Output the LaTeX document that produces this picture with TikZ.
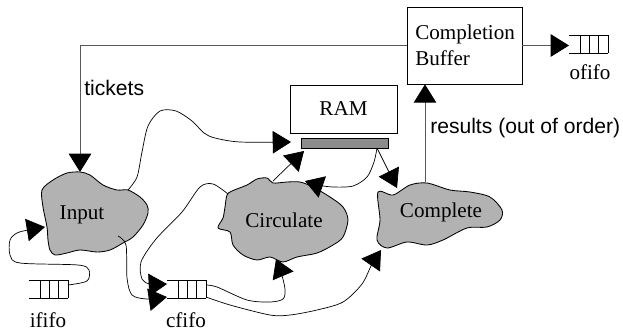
\documentclass[tikz,border=0pt]{standalone}
\usepackage{fontspec}
\setmainfont{Liberation Serif}
\setsansfont{Liberation Sans}
\usetikzlibrary{arrows.meta}

\tikzset{
  every node/.style={font=\fontsize{15}{18.5}\selectfont},
  blob/.style={fill=gray!60, draw=black, line width=0.6pt},
  box/.style={draw, line width=0.6pt},
  link/.style={line width=0.5pt, -{Triangle[length=13pt,width=16pt]}},
  feedback/.style={line width=0.7pt, draw=black!65, -{Triangle[length=13pt,width=16pt,color=black]}},
  tag/.style={font=\sffamily\fontsize{15}{18}\selectfont, inner sep=0pt, anchor=west},
}

\begin{document}
\begin{tikzpicture}[x=0.025cm,y=-0.025cm]
\useasboundingbox (0,0) rectangle (623,335);

% processes
\filldraw[blob] plot[smooth cycle] coordinates {(42,190) (53,180) (67,173) (80,172) (90,175) (103,185) (117,190) (128,190) (140,197) (147,205) (148,213) (143,225) (133,237) (123,243) (110,250) (97,252) (80,250) (67,253) (55,255) (50,250) (48,240) (47,227) (43,207)};
\node (input) at (82,215) {Input};

\filldraw[blob] plot[smooth cycle] coordinates {(227,195) (232,191) (247,185) (257,179) (267,178) (273,183) (287,182) (300,182) (313,187) (330,197) (343,207) (348,220) (343,237) (333,245) (317,253) (297,257) (283,262) (270,257) (257,260) (243,255) (233,245) (230,232) (218,228) (223,218) (225,207)};
\node (circulate) at (284,220) {Circulate};

\filldraw[blob] plot[smooth cycle] coordinates {(378,192) (393,195) (410,185) (427,183) (450,190) (470,192) (490,197) (502,210) (500,220) (487,227) (467,228) (443,240) (427,245) (407,242) (387,248) (377,240) (380,220)};
\node (complete) at (441,212) {Complete};

% boxes
\node[box, minimum height=54.7pt, text width=70pt, inner xsep=5.9pt, align=left] (buffer) at (464.5,45.5) {Completion\\Buffer};
\node[box, minimum width=76pt, minimum height=34.1pt] (ram) at (343.5,109) {RAM};
\node[box, fill=gray!90, minimum width=61.9pt, minimum height=7.1pt, inner sep=0pt] (bar) at (344.5,143) {};

% queues
\foreach \x/\y in {29/280, 167/280, 569/35}{
  \draw[line width=0.6pt] (\x,\y) -- ++(39,0) (\x,\y+18) -- ++(39,0);
  \foreach \d in {11,20,29,39}
    \draw[line width=0.6pt] (\x+\d,\y) -- ++(0,18);
}
\node (ififo) at (48,320) {ififo};
\node (cfifo) at (186,320) {cfifo};
\node (ofifo) at (590,72) {ofifo};

% ports
\coordinate (in-top) at (80,172);
\coordinate (in-ne) at (128,190);
\coordinate (in-se) at (118,236);
\coordinate (in-w) at (45,227);
\coordinate (ci-top) at (273,181);
\coordinate (ci-nw) at (228,194);
\coordinate (ci-ne) at (305,181);
\coordinate (ci-s) at (276,259);
\coordinate (co-top) at (425,182);
\coordinate (co-nw) at (397,188);
\coordinate (co-sw) at (381,250);
\coordinate (ram-in) at (291,142);
\coordinate (ram-out) at (377,148);
\coordinate (ram-sw) at (304,151);
\coordinate (ififo-out) at (68,285);
\coordinate (cfifo-in1) at (167,284);
\coordinate (cfifo-in2) at (167,297);
\coordinate (cfifo-out1) at (206,285);
\coordinate (cfifo-out2) at (206,297);
\coordinate (ofifo-in) at (569,44);

% feedback and results
\draw[feedback] (buffer.west) -| (in-top);
\node[tag] (tickets) at (84,88) {tickets};
\draw[feedback] (co-top) -- (co-top |- buffer.south);
\node[tag] (results) at (430,128) {results (out of order)};
\draw[feedback] (buffer.east) -- (ofifo-in |- buffer.east);

% data paths
\draw[link] plot[smooth] coordinates {(in-ne) (137,177) (142,152) (148,126) (160,111) (176,111) (192,121) (204,133) (215,138) (240,142) (ram-in)};
\draw[link] (ci-top) -- (ram-sw);
\draw[link] (ram-out) -- (co-nw);
\draw[link] plot[smooth] coordinates {(ram-out) (374,162) (367,177) (353,186) (333,187) (318,185) (ci-ne)};
\draw[link] plot[smooth] coordinates {(ci-nw) (213,184) (200,187) (182,212) (156,239) (141,262) (142,279) (150,284) (cfifo-in1)};
\draw[link] plot[smooth] coordinates {(in-se) (126,245) (127,278) (132,295) (147,299) (cfifo-in2)};
\draw[link] plot[smooth] coordinates {(ififo-out) (87,281) (89,270) (78,265) (20,263) (10,255) (10,240) (17,233) (28,230) (in-w)};
\draw[link] plot[smooth] coordinates {(cfifo-out1) (217,287) (247,300) (270,302) (283,299) (285,289) (281,272) (ci-s)};
\draw[link] plot[smooth] coordinates {(cfifo-out2) (230,305) (270,315) (290,315) (317,310) (343,302) (362,284) (372,264) (co-sw)};
\end{tikzpicture}
\end{document}
